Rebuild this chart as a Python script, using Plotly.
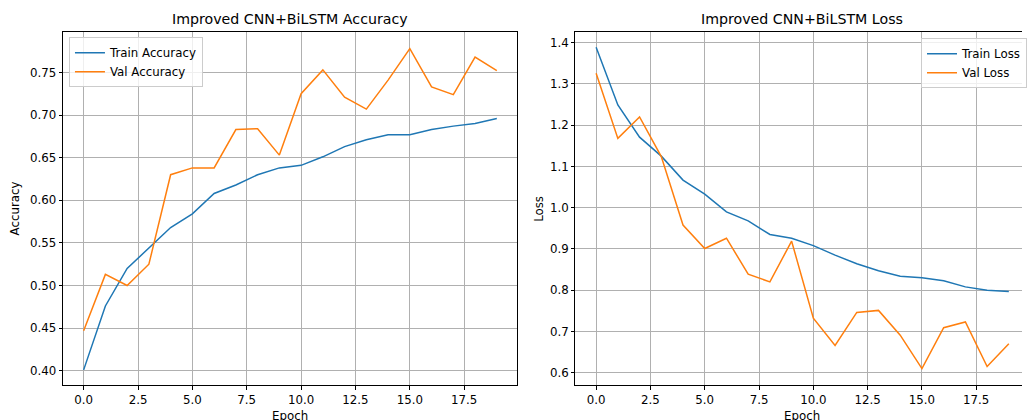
import plotly.graph_objects as go

epochs = list(range(20))

train_acc = [0.401, 0.476, 0.520, 0.544, 0.568, 0.584, 0.608, 0.618, 0.630, 0.638,
             0.641, 0.651, 0.663, 0.671, 0.677, 0.677, 0.683, 0.687, 0.690, 0.696]
val_acc = [0.447, 0.513, 0.500, 0.525, 0.630, 0.638, 0.638, 0.683, 0.684, 0.653,
           0.725, 0.753, 0.721, 0.707, 0.741, 0.778, 0.733, 0.724, 0.768, 0.752]

train_loss = [1.389, 1.249, 1.171, 1.125, 1.067, 1.033, 0.990, 0.968, 0.935, 0.926,
              0.908, 0.885, 0.864, 0.847, 0.834, 0.830, 0.823, 0.808, 0.800, 0.797]
val_loss = [1.326, 1.168, 1.220, 1.124, 0.958, 0.901, 0.926, 0.839, 0.820, 0.919,
            0.732, 0.666, 0.746, 0.751, 0.691, 0.610, 0.709, 0.723, 0.615, 0.670]

acc_ticks = [0.40, 0.45, 0.50, 0.55, 0.60, 0.65, 0.70, 0.75]
loss_ticks = [0.6, 0.7, 0.8, 0.9, 1.0, 1.1, 1.2, 1.3, 1.4]
epoch_ticks = [0.0, 2.5, 5.0, 7.5, 10.0, 12.5, 15.0, 17.5]

BLUE = "#1f77b4"
ORANGE = "#ff7f0e"
FONT = "DejaVu Sans"
W, H = 1027, 420
FS = 11.8
TS = 14.2

fig = go.Figure()
fig.add_trace(go.Scatter(x=epochs, y=train_acc, mode="lines", name="Train Accuracy",
                         line=dict(color=BLUE, width=1.5), xaxis="x", yaxis="y", legend="legend"))
fig.add_trace(go.Scatter(x=epochs, y=val_acc, mode="lines", name="Val Accuracy",
                         line=dict(color=ORANGE, width=1.5), xaxis="x", yaxis="y", legend="legend"))
fig.add_trace(go.Scatter(x=epochs, y=train_loss, mode="lines", name="Train Loss",
                         line=dict(color=BLUE, width=1.5), xaxis="x2", yaxis="y2", legend="legend2"))
fig.add_trace(go.Scatter(x=epochs, y=val_loss, mode="lines", name="Val Loss",
                         line=dict(color=ORANGE, width=1.5), xaxis="x2", yaxis="y2", legend="legend2"))

px = lambda p: p / W
py = lambda p: 1 - p / H

common = dict(showgrid=True, gridcolor="#b0b0b0", gridwidth=0.8, showline=True,
              linecolor="black", linewidth=0.9, ticks="outside", ticklen=3.5,
              tickwidth=0.8, tickcolor="black", zeroline=False,
              tickfont=dict(family=FONT, size=FS, color="black"))

fig.update_layout(
    width=W, height=H,
    margin=dict(l=0, r=0, t=0, b=0),
    paper_bgcolor="white", plot_bgcolor="white",
    font=dict(family=FONT, size=FS, color="black"),
    xaxis=dict(domain=[px(63.3), px(520)], range=[-0.95, 19.95], tickvals=epoch_ticks,
               tickformat=".1f", mirror=True, anchor="y", **common),
    yaxis=dict(domain=[py(385.3), py(31.7)], range=[0.3829, 0.7978], tickvals=acc_ticks,
               tickformat=".2f", mirror=True, anchor="x", **common),
    xaxis2=dict(domain=[px(578.3), 1.0], range=[-0.95, 19.606], tickvals=epoch_ticks,
                tickformat=".1f", mirror=True, anchor="y2", **common),
    yaxis2=dict(domain=[py(385.3), py(31.7)], range=[0.5694, 1.4267], tickvals=loss_ticks,
                tickformat=".1f", mirror=False, anchor="x2", **common),
    legend=dict(x=px(69.3), y=py(37.3), xanchor="left", yanchor="top",
                bgcolor="rgba(255,255,255,0.8)", bordercolor="#cccccc", borderwidth=1,
                font=dict(family=FONT, size=FS, color="black"), tracegroupgap=0),
    legend2=dict(x=px(925.7), y=py(38.3), xanchor="left", yanchor="top",
                 bgcolor="rgba(255,255,255,0.8)", bordercolor="#cccccc", borderwidth=1,
                 font=dict(family=FONT, size=FS, color="black"), tracegroupgap=0),
    annotations=[
        dict(text="Improved CNN+BiLSTM Accuracy", x=px(291.7), y=py(19), xref="paper", yref="paper",
             xanchor="center", yanchor="middle", showarrow=False,
             font=dict(family=FONT, size=TS, color="black")),
        dict(text="Improved CNN+BiLSTM Loss", x=px(806), y=py(19), xref="paper", yref="paper",
             xanchor="center", yanchor="middle", showarrow=False,
             font=dict(family=FONT, size=TS, color="black")),
        dict(text="Accuracy", x=px(15), y=py(208.5), xref="paper", yref="paper",
             xanchor="center", yanchor="middle", textangle=-90, showarrow=False,
             font=dict(family=FONT, size=FS, color="black")),
        dict(text="Loss", x=px(541), y=py(208.5), xref="paper", yref="paper",
             xanchor="center", yanchor="middle", textangle=-90, showarrow=False,
             font=dict(family=FONT, size=FS, color="black")),
        dict(text="Epoch", x=px(291.7), y=py(416), xref="paper", yref="paper",
             xanchor="center", yanchor="middle", showarrow=False,
             font=dict(family=FONT, size=FS, color="black")),
        dict(text="Epoch", x=px(806), y=py(416), xref="paper", yref="paper",
             xanchor="center", yanchor="middle", showarrow=False,
             font=dict(family=FONT, size=FS, color="black")),
    ],
)

fig.write_html("out.html",
               config={"displayModeBar": False},
               post_script="document.body.style.margin='0px';document.body.style.overflow='hidden';")
